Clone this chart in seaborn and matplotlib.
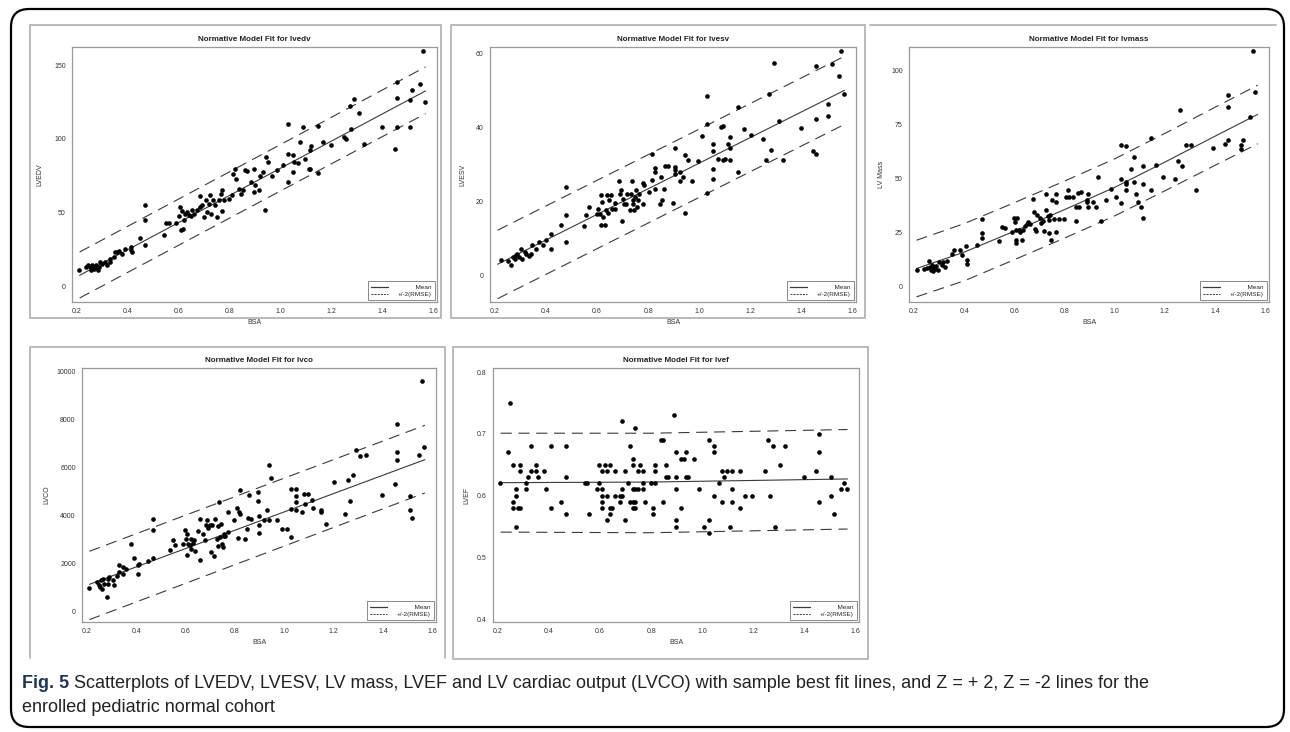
import matplotlib
matplotlib.use("Agg")
import matplotlib.pyplot as plt
from matplotlib.patches import Rectangle, FancyBboxPatch
from matplotlib.lines import Line2D
import seaborn as sns
import pandas as pd

sns.set_style("white")
plt.rcParams['font.family'] = ['Liberation Sans', 'DejaVu Sans']

# ---------------- data ----------------
lvedv_bsa = [0.209, 0.237, 0.242, 0.250, 0.255, 0.260, 0.266, 0.271, 0.276, 0.281, 0.285, 0.289, 0.298, 0.311,
             0.318, 0.328, 0.331, 0.344, 0.351, 0.357, 0.364, 0.377, 0.390, 0.410, 0.412, 0.416, 0.449, 0.466,
             0.466, 0.466, 0.541, 0.550, 0.560, 0.587, 0.600, 0.606, 0.610, 0.617, 0.613, 0.622, 0.626, 0.633,
             0.639, 0.646, 0.652, 0.661, 0.672, 0.682, 0.685, 0.691, 0.698, 0.705, 0.711, 0.718, 0.724, 0.727,
             0.735, 0.744, 0.750, 0.757, 0.764, 0.770, 0.770, 0.779, 0.796, 0.809, 0.813, 0.819, 0.823, 0.836,
             0.845, 0.853, 0.862, 0.868, 0.884, 0.897, 0.897, 0.901, 0.914, 0.921, 0.931, 0.938, 0.941, 0.950,
             0.967, 0.986, 1.010, 1.028, 1.028, 1.028, 1.049, 1.049, 1.052, 1.069, 1.078, 1.089, 1.098, 1.111,
             1.117, 1.117, 1.120, 1.146, 1.148, 1.167, 1.199, 1.249, 1.259, 1.271, 1.277, 1.288, 1.308, 1.327,
             1.399, 1.449, 1.458, 1.458, 1.458, 1.508, 1.508, 1.517, 1.548, 1.559, 1.566]
lvedv_val = [10.9, 13.1, 14.3, 13.1, 11.3, 14.3, 12.0, 13.1, 14.3, 11.3, 13.1, 16.5, 15.4, 16.5,
             14.3, 16.5, 18.8, 19.9, 23.3, 23.3, 24.0, 22.2, 25.6, 24.9, 26.7, 23.3, 33.0, 27.8,
             55.0, 44.8, 34.6, 43.0, 43.0, 43.0, 47.5, 53.8, 38.0, 39.1, 51.1, 44.8, 49.3, 50.5,
             48.2, 47.5, 51.6, 49.3, 52.0, 61.1, 53.8, 55.0, 47.1, 58.4, 50.5, 56.1, 61.8, 49.3,
             58.4, 55.0, 47.1, 58.4, 62.9, 65.6, 51.1, 58.8, 59.5, 61.8, 76.5, 79.9, 73.1, 66.3,
             62.9, 65.2, 79.2, 78.3, 70.8, 79.9, 64.0, 68.6, 65.6, 74.7, 77.6, 51.6, 87.8, 84.4,
             74.7, 79.2, 82.6, 110.4, 90.0, 70.8, 77.6, 88.9, 84.4, 83.7, 98.0, 108.1, 86.7, 79.9,
             79.9, 92.3, 95.0, 108.6, 76.9, 98.0, 96.2, 101.4, 100.2, 122.2, 107.0, 127.1, 117.6, 96.8,
             108.1, 93.0, 108.1, 128.1, 138.9, 108.1, 126.7, 133.5, 137.1, 159.7, 124.9]

lvesv_bsa = [0.222, 0.251, 0.262, 0.271, 0.277, 0.283, 0.287, 0.292, 0.300, 0.305, 0.316, 0.322, 0.331, 0.339,
             0.344, 0.361, 0.371, 0.388, 0.399, 0.418, 0.418, 0.457, 0.479, 0.479, 0.479, 0.547, 0.557, 0.569,
             0.598, 0.605, 0.611, 0.615, 0.617, 0.621, 0.624, 0.630, 0.634, 0.637, 0.643, 0.647, 0.656, 0.660,
             0.669, 0.669, 0.686, 0.688, 0.694, 0.698, 0.701, 0.707, 0.714, 0.718, 0.727, 0.733, 0.737, 0.739,
             0.742, 0.746, 0.750, 0.752, 0.756, 0.759, 0.765, 0.778, 0.778, 0.784, 0.804, 0.814, 0.817, 0.825,
             0.825, 0.825, 0.845, 0.852, 0.855, 0.861, 0.865, 0.877, 0.896, 0.904, 0.904, 0.904, 0.904, 0.926,
             0.926, 0.935, 0.945, 0.945, 0.955, 0.973, 0.994, 1.013, 1.032, 1.032, 1.032, 1.054, 1.054, 1.054,
             1.054, 1.073, 1.084, 1.093, 1.093, 1.102, 1.114, 1.122, 1.122, 1.122, 1.154, 1.154, 1.174, 1.204,
             1.251, 1.263, 1.273, 1.283, 1.292, 1.314, 1.330, 1.401, 1.448, 1.459, 1.459, 1.459, 1.507, 1.507,
             1.520, 1.549, 1.558, 1.568]
lvesv_val = [4.3, 4.1, 2.8, 5.0, 4.6, 5.5, 5.9, 5.0, 7.3, 4.6, 6.4, 5.9, 5.2, 5.9,
             8.2, 7.3, 9.1, 8.2, 9.7, 11.4, 7.3, 13.6, 24.0, 16.5, 9.0, 13.3, 16.5, 18.6,
             16.8, 18.1, 16.8, 21.7, 13.6, 19.9, 15.9, 13.6, 17.8, 21.7, 16.9, 20.5, 21.7, 18.1,
             19.7, 18.1, 25.6, 22.2, 23.1, 14.8, 20.8, 19.5, 19.5, 22.0, 17.7, 22.2, 25.6, 20.5,
             19.5, 17.7, 21.3, 23.1, 18.7, 20.5, 22.2, 25.0, 19.5, 24.6, 22.6, 32.8, 25.8, 29.1,
             27.9, 23.5, 19.5, 26.7, 20.5, 23.3, 29.6, 29.6, 19.6, 29.5, 28.5, 27.6, 34.6, 28.0,
             25.6, 26.7, 32.7, 16.9, 31.4, 25.6, 31.0, 37.7, 48.5, 41.1, 22.3, 35.5, 33.7, 28.9,
             26.1, 31.6, 40.2, 40.4, 31.4, 31.6, 35.7, 37.5, 34.6, 31.4, 45.6, 28.0, 39.6, 38.1,
             37.0, 31.4, 49.0, 34.1, 57.5, 41.8, 31.4, 40.0, 33.7, 42.3, 32.8, 56.8, 46.5, 43.1,
             57.3, 53.9, 60.7, 49.0]

lvmass_bsa = [0.210, 0.239, 0.252, 0.259, 0.263, 0.268, 0.272, 0.276, 0.278, 0.283, 0.289, 0.294, 0.298, 0.311,
              0.317, 0.324, 0.330, 0.350, 0.359, 0.382, 0.390, 0.408, 0.411, 0.411, 0.450, 0.470, 0.470, 0.470,
              0.539, 0.549, 0.561, 0.591, 0.597, 0.604, 0.606, 0.606, 0.606, 0.610, 0.617, 0.623, 0.630, 0.636,
              0.643, 0.649, 0.656, 0.662, 0.675, 0.679, 0.684, 0.688, 0.692, 0.701, 0.708, 0.714, 0.718, 0.725,
              0.727, 0.734, 0.737, 0.740, 0.744, 0.747, 0.750, 0.757, 0.764, 0.766, 0.766, 0.776, 0.799, 0.806,
              0.812, 0.819, 0.834, 0.845, 0.845, 0.854, 0.858, 0.864, 0.890, 0.890, 0.893, 0.894, 0.914, 0.927,
              0.933, 0.945, 0.966, 0.984, 1.005, 1.024, 1.024, 1.024, 1.044, 1.044, 1.044, 1.044, 1.066, 1.075,
              1.075, 1.083, 1.092, 1.105, 1.112, 1.112, 1.112, 1.144, 1.144, 1.166, 1.192, 1.242, 1.252, 1.261,
              1.270, 1.285, 1.303, 1.323, 1.392, 1.440, 1.450, 1.450, 1.450, 1.502, 1.502, 1.513, 1.541, 1.552,
              1.561]
lvmass_val = [7.7, 8.2, 8.5, 11.7, 9.0, 7.7, 9.7, 7.1, 9.0, 8.2, 9.3, 7.7, 11.3, 9.7,
              11.3, 9.0, 11.7, 14.8, 17.0, 17.0, 14.4, 18.5, 12.0, 10.2, 19.3, 31.3, 24.7, 22.4,
              21.0, 27.5, 27.2, 25.2, 31.8, 29.8, 25.9, 21.6, 19.8, 31.8, 26.2, 25.2, 21.3, 26.2,
              27.8, 29.0, 29.8, 28.7, 40.6, 34.4, 26.7, 25.5, 32.9, 31.8, 29.3, 30.2, 25.6, 42.9,
              35.2, 32.4, 24.7, 30.6, 32.9, 21.3, 39.8, 31.3, 42.9, 39.0, 25.2, 31.3, 31.3, 41.4,
              44.4, 41.4, 41.4, 36.7, 30.2, 43.2, 36.7, 43.7, 40.1, 39.0, 42.6, 36.7, 39.0, 36.7,
              50.6, 30.2, 39.8, 45.2, 41.4, 65.6, 49.8, 38.6, 64.8, 48.3, 47.5, 44.4, 54.5, 59.9,
              48.3, 42.6, 39.0, 36.7, 55.6, 47.5, 31.8, 68.8, 44.4, 56.0, 50.6, 49.8, 58.0, 81.5,
              55.6, 65.6, 65.6, 44.8, 64.2, 65.7, 88.4, 83.0, 67.9, 65.3, 63.7, 67.9, 78.4, 109.0,
              90.0]

lvco_bsa = [0.209, 0.240, 0.247, 0.254, 0.258, 0.263, 0.267, 0.271, 0.281, 0.285, 0.287, 0.290, 0.307, 0.311,
            0.321, 0.328, 0.330, 0.348, 0.348, 0.357, 0.379, 0.391, 0.408, 0.408, 0.412, 0.448, 0.468, 0.468,
            0.468, 0.538, 0.549, 0.558, 0.589, 0.599, 0.603, 0.607, 0.607, 0.609, 0.616, 0.620, 0.623, 0.630,
            0.636, 0.639, 0.650, 0.658, 0.659, 0.670, 0.679, 0.683, 0.688, 0.690, 0.697, 0.701, 0.707, 0.717,
            0.721, 0.728, 0.730, 0.733, 0.737, 0.741, 0.744, 0.746, 0.750, 0.754, 0.757, 0.761, 0.770, 0.770,
            0.797, 0.808, 0.811, 0.817, 0.820, 0.821, 0.842, 0.848, 0.851, 0.858, 0.864, 0.895, 0.895, 0.899,
            0.899, 0.899, 0.918, 0.928, 0.940, 0.940, 0.948, 0.969, 0.989, 1.009, 1.028, 1.028, 1.028, 1.048,
            1.048, 1.048, 1.048, 1.070, 1.079, 1.082, 1.095, 1.113, 1.117, 1.149, 1.149, 1.169, 1.200, 1.247,
            1.260, 1.267, 1.278, 1.291, 1.307, 1.330, 1.398, 1.447, 1.458, 1.458, 1.458, 1.509, 1.509, 1.519,
            1.546, 1.558, 1.566]
lvco_val = [989, 1226, 1087, 1017, 1295, 947, 1365, 1156, 599, 1156, 1365, 1435, 1295, 1114,
            1463, 1644, 1922, 1574, 1853, 1783, 2800, 2229, 1574, 1922, 1992, 2103, 3873, 3413,
            2243, 2549, 2967, 2758, 2828, 3385, 3037, 2340, 3246, 2828, 2758, 2619, 3037, 2856,
            2967, 2521, 3357, 3873, 2159, 3246, 2967, 3594, 3803, 3483, 3594, 2479, 3622, 2298,
            3873, 3037, 3566, 2716, 4569, 3106, 3636, 2828, 2688, 3134, 3246, 3134, 4151, 3315,
            3803, 4332, 3078, 4151, 5084, 4081, 3037, 3455, 3914, 4847, 3873, 4987, 4597, 3970,
            3594, 3274, 3803, 4221, 6101, 3803, 5586, 3803, 3455, 3455, 5126, 4290, 3106, 5126,
            4806, 4569, 4221, 4151, 4917, 4499, 4917, 4639, 4318, 4249, 4151, 3664, 5405, 4081,
            5503, 4597, 5684, 6756, 6477, 6519, 4875, 5307, 7815, 6659, 6338, 4806, 4249, 3914,
            6519, 9626, 6867]

lvef_bsa = [0.209, 0.239, 0.248, 0.259, 0.259, 0.259, 0.269, 0.269, 0.269, 0.278, 0.287, 0.287, 0.287, 0.308,
            0.308, 0.317, 0.328, 0.328, 0.347, 0.347, 0.358, 0.378, 0.386, 0.408, 0.408, 0.447, 0.467, 0.467,
            0.467, 0.539, 0.548, 0.558, 0.588, 0.597, 0.597, 0.608, 0.608, 0.608, 0.608, 0.608, 0.618, 0.627,
            0.627, 0.627, 0.638, 0.638, 0.638, 0.647, 0.657, 0.657, 0.677, 0.677, 0.686, 0.686, 0.686, 0.696,
            0.696, 0.708, 0.717, 0.717, 0.727, 0.727, 0.727, 0.727, 0.727, 0.738, 0.738, 0.738, 0.738, 0.748,
            0.748, 0.757, 0.768, 0.768, 0.768, 0.777, 0.798, 0.807, 0.807, 0.817, 0.817, 0.817, 0.838, 0.847,
            0.847, 0.858, 0.858, 0.868, 0.888, 0.897, 0.897, 0.897, 0.897, 0.897, 0.916, 0.918, 0.927, 0.936,
            0.936, 0.946, 0.968, 0.988, 1.007, 1.027, 1.027, 1.027, 1.048, 1.048, 1.048, 1.067, 1.076, 1.076,
            1.087, 1.097, 1.108, 1.117, 1.117, 1.117, 1.148, 1.148, 1.168, 1.196, 1.246, 1.257, 1.267, 1.277,
            1.287, 1.306, 1.326, 1.398, 1.446, 1.457, 1.457, 1.457, 1.506, 1.506, 1.517, 1.545, 1.556, 1.567]
lvef_val = [0.62, 0.67, 0.75, 0.65, 0.59, 0.58, 0.61, 0.60, 0.55, 0.58, 0.58, 0.65, 0.64, 0.62,
            0.61, 0.63, 0.68, 0.64, 0.65, 0.64, 0.63, 0.64, 0.61, 0.68, 0.58, 0.59, 0.68, 0.63,
            0.57, 0.62, 0.62, 0.57, 0.61, 0.65, 0.62, 0.64, 0.61, 0.60, 0.59, 0.58, 0.65, 0.64,
            0.60, 0.56, 0.65, 0.57, 0.58, 0.58, 0.64, 0.60, 0.59, 0.60, 0.72, 0.61, 0.60, 0.64,
            0.56, 0.62, 0.68, 0.59, 0.66, 0.65, 0.61, 0.59, 0.58, 0.71, 0.61, 0.59, 0.58, 0.64,
            0.61, 0.65, 0.64, 0.62, 0.61, 0.59, 0.62, 0.58, 0.57, 0.65, 0.64, 0.62, 0.69, 0.69,
            0.59, 0.65, 0.63, 0.63, 0.73, 0.67, 0.63, 0.61, 0.56, 0.55, 0.58, 0.66, 0.66, 0.67,
            0.63, 0.63, 0.66, 0.61, 0.55, 0.69, 0.56, 0.54, 0.68, 0.67, 0.60, 0.62, 0.59, 0.64,
            0.63, 0.64, 0.55, 0.64, 0.61, 0.59, 0.64, 0.58, 0.60, 0.60, 0.64, 0.69, 0.60, 0.68,
            0.55, 0.65, 0.68, 0.63, 0.64, 0.70, 0.67, 0.59, 0.63, 0.60, 0.57, 0.61, 0.62, 0.61]

# fitted lines (BSA, mean, +2 RMSE, -2 RMSE)
lvedv_fit_bsa = [0.21, 1.57]
lvedv_fit_mean = [7.5, 132.6]
lvedv_fit_upper = [23.3, 148.9]
lvedv_fit_lower = [-7.9, 117.2]

lvesv_fit_bsa = [0.21, 1.57]
lvesv_fit_mean = [3.1, 50.1]
lvesv_fit_upper = [12.3, 59.3]
lvesv_fit_lower = [-6.2, 40.9]

lvmass_fit_bsa = [0.21, 0.4, 0.6, 0.8, 1.0, 1.2, 1.4, 1.57]
lvmass_fit_mean = [8.2, 15.8, 25.5, 35.5, 45.8, 57.5, 69.5, 79.6]
lvmass_fit_upper = [21.3, 29.0, 38.7, 48.7, 59.0, 70.8, 82.9, 93.1]
lvmass_fit_lower = [-4.9, 2.5, 12.3, 22.3, 32.6, 44.2, 56.0, 66.0]

lvco_fit_bsa = [0.21, 1.57]
lvco_fit_mean = [1128, 6338]
lvco_fit_upper = [2507, 7773]
lvco_fit_lower = [-348, 4945]

lvef_fit_bsa = [0.21, 0.8, 1.57]
lvef_fit_mean = [0.621, 0.622, 0.627]
lvef_fit_upper = [0.701, 0.701, 0.707]
lvef_fit_lower = [0.541, 0.540, 0.546]

titles = ["Normative Model Fit for lvedv", "Normative Model Fit for lvesv", "Normative Model Fit for lvmass",
          "Normative Model Fit for lvco", "Normative Model Fit for lvef"]
ylabels = ["LVEDV", "LVESV", "LV Mass", "LVCO", "LVEF"]
yticks = [[0, 50, 100, 150], [0, 20, 40, 60], [0, 25, 50, 75, 100],
          [0, 2000, 4000, 6000, 8000, 10000], [0.4, 0.5, 0.6, 0.7, 0.8]]
ylims = [(-10.6, 162.4), (-7.1, 61.8), (-7.3, 110.8), (-447, 10167), (0.3956, 0.8065)]
xticks = [0.2, 0.4, 0.6, 0.8, 1.0, 1.2, 1.4, 1.6]
legend_labels = ["Mean", "+/-2(RMSE)"]
caption_bold = "Fig. 5"
caption_line1 = ("Scatterplots of LVEDV, LVESV, LV mass, LVEF and LV cardiac output (LVCO) with sample "
                 "best fit lines, and Z = + 2, Z = -2 lines for the")
caption_line2 = "enrolled pediatric normal cohort"

panels = [
    (lvedv_bsa, lvedv_val, lvedv_fit_bsa, lvedv_fit_mean, lvedv_fit_upper, lvedv_fit_lower),
    (lvesv_bsa, lvesv_val, lvesv_fit_bsa, lvesv_fit_mean, lvesv_fit_upper, lvesv_fit_lower),
    (lvmass_bsa, lvmass_val, lvmass_fit_bsa, lvmass_fit_mean, lvmass_fit_upper, lvmass_fit_lower),
    (lvco_bsa, lvco_val, lvco_fit_bsa, lvco_fit_mean, lvco_fit_upper, lvco_fit_lower),
    (lvef_bsa, lvef_val, lvef_fit_bsa, lvef_fit_mean, lvef_fit_upper, lvef_fit_lower),
]

# ---------------- layout ----------------
W, H = 1290, 732
fig = plt.figure(figsize=(W / 100, H / 100), dpi=100)
fig.patch.set_facecolor("white")

def fbox(l, t, r, b):
    return [l / W, 1 - b / H, (r - l) / W, (b - t) / H]

def fline(xs, ys, **kw):
    fig.lines.append(Line2D([x / W for x in xs], [1 - y / H for y in ys], transform=fig.transFigure, **kw))

axes_px = [(72, 47, 437, 302), (490, 47, 856, 302), (909, 47, 1269, 302),
           (82, 368, 436, 622), (493, 368, 859, 622)]
ylabel_x = [40, 463, 882, 47, 467]

# outer rounded border
fig.patches.append(FancyBboxPatch((11 / W, 1 - 727 / H), 1273 / W, 718 / H,
                                  boxstyle="round,pad=0,rounding_size=0.014",
                                  transform=fig.transFigure, fill=False, edgecolor="black",
                                  linewidth=1.6, mutation_aspect=W / H))
# panel frames
frame_col = "#b4b4b4"
for (l, t, r, b) in [(30, 25, 441, 318), (451, 25, 865, 318), (453, 347, 868, 659)]:
    fig.patches.append(Rectangle((l / W, 1 - b / H), (r - l) / W, (b - t) / H, transform=fig.transFigure,
                                 fill=False, edgecolor=frame_col, linewidth=1.3))
fline([870, 1276], [25, 25], color=frame_col, linewidth=1.3)
fline([30, 30, 445, 445], [658, 347, 347, 658], color=frame_col, linewidth=1.3)

tick_col = "#333333"
line_col = "#3a3a3a"
dash_style = (0, (10, 6))

for i, (bsa, val, fx, fm, fu, fl) in enumerate(panels):
    ax = fig.add_axes(fbox(*axes_px[i]))
    df = pd.DataFrame({"BSA": bsa, "val": val})
    fit = pd.DataFrame({"BSA": fx, "mean": fm, "upper": fu, "lower": fl})
    sns.lineplot(data=fit, x="BSA", y="upper", ax=ax, color=line_col, linewidth=0.8, linestyle=dash_style)
    sns.lineplot(data=fit, x="BSA", y="lower", ax=ax, color=line_col, linewidth=0.8, linestyle=dash_style)
    sns.lineplot(data=fit, x="BSA", y="mean", ax=ax, color=line_col, linewidth=0.8)
    sns.scatterplot(data=df, x="BSA", y="val", ax=ax, s=11, color="black", linewidth=0, zorder=5)

    ax.set_xlim(0.18, 1.615)
    ax.set_ylim(*ylims[i])
    ax.set_xticks(xticks)
    ax.set_xticklabels([f"{t:.1f}" for t in xticks])
    ax.set_yticks(yticks[i])
    if i == 4:
        ax.set_yticklabels([f"{t:.1f}" for t in yticks[i]])
    else:
        ax.set_yticklabels([f"{t:g}" for t in yticks[i]])
    ax.tick_params(axis="both", direction="out", length=3, width=0.6, color="#777777",
                   labelsize=5, labelcolor=tick_col, pad=1.5)
    for sp in ax.spines.values():
        sp.set_color("#999999")
        sp.set_linewidth(0.9)
    ax.set_xlabel("BSA", fontsize=5, color=tick_col, labelpad=3)
    ax.set_ylabel("")
    l, t, r, b = axes_px[i]
    fig.text(ylabel_x[i] / W, 1 - ((t + b) / 2) / H, ylabels[i], rotation=90, fontsize=5,
             color=tick_col, ha="center", va="center")
    ax.set_title(titles[i], fontsize=5.8, fontweight="bold", color="#222222", pad=4)

    handles = [Line2D([], [], color=line_col, linewidth=0.9),
               Line2D([], [], color=line_col, linewidth=0.7, linestyle=(0, (2, 1.2)))]
    # leading spaces right-align "Mean" with the longer label, as in the reference
    shown = [" " * 10 + legend_labels[0], legend_labels[1]]
    leg = ax.legend(handles, shown, loc="lower right", fontsize=4.6, frameon=True,
                    fancybox=False, edgecolor="#555555", handlelength=2.6, handletextpad=1.6,
                    borderpad=0.45, labelspacing=0.25, borderaxespad=0.35)
    leg.get_frame().set_linewidth(0.6)

# caption
fig.canvas.draw()
renderer = fig.canvas.get_renderer()
cap_font = ['Liberation Sans', 'DejaVu Sans']
tb = fig.text(22 / W, 1 - 683 / H, caption_bold, fontsize=13, fontweight="bold", color="#1f3556",
              ha="left", va="center", family=cap_font)
bb = tb.get_window_extent(renderer=renderer)
fig.text((bb.x1 + 5) / W, 1 - 683 / H, caption_line1, fontsize=13, color="#222222",
         ha="left", va="center", family=cap_font)
fig.text(22 / W, 1 - 707 / H, caption_line2, fontsize=13, color="#222222",
         ha="left", va="center", family=cap_font)

fig.savefig("out.png", dpi=100, facecolor="white")
